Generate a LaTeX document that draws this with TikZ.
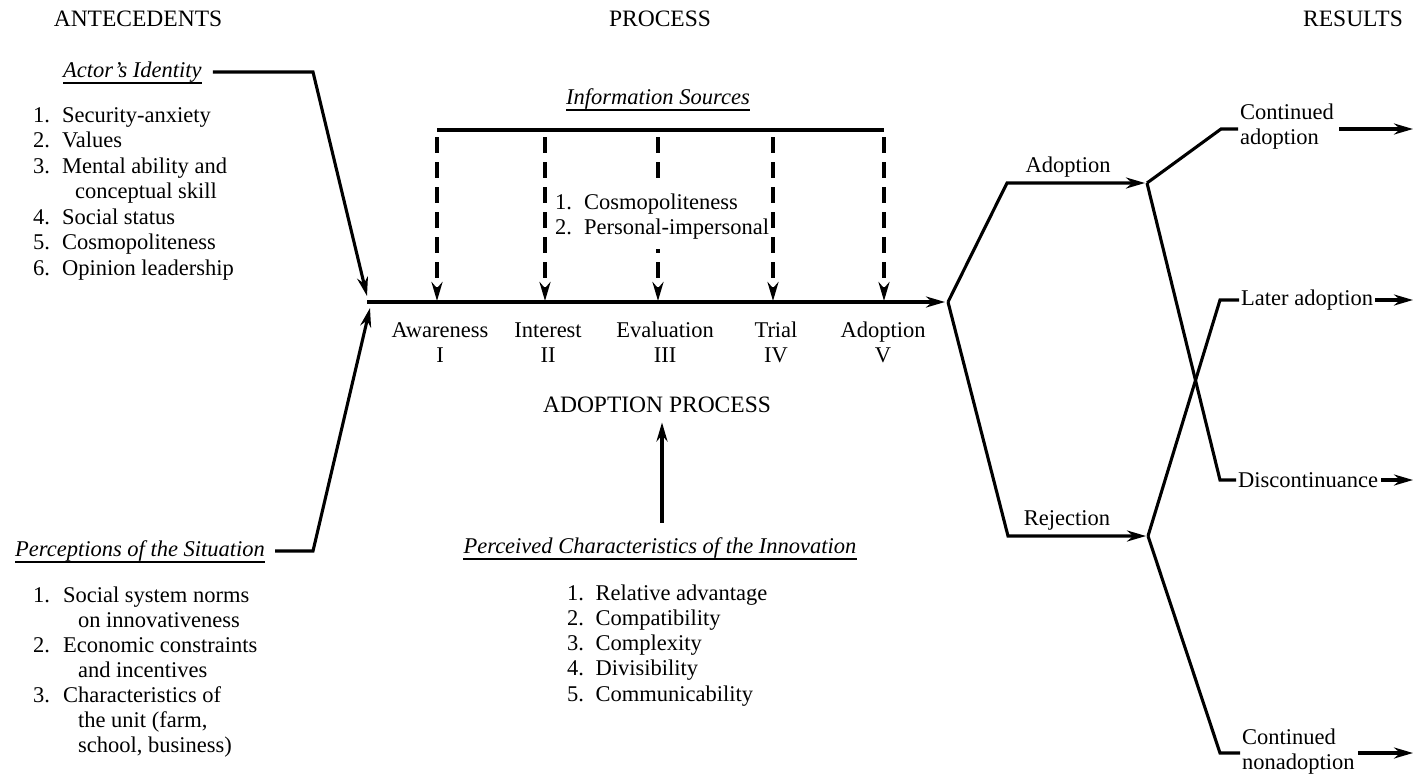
\documentclass[tikz,border=0pt]{standalone}
\usepackage{fontspec}
\setmainfont{Liberation Serif}
\usetikzlibrary{arrows.meta}
\begin{document}
\begin{tikzpicture}[x=1pt,y=-1pt,
  txt/.style={inner sep=0pt, font=\fontsize{22.5}{25}\selectfont},
  head/.style={inner sep=0pt, font=\fontsize{23.5}{25}\selectfont},
  ital/.style={inner sep=0pt, font=\fontsize{22.5}{25}\selectfont\itshape},
  ln/.style={line width=3.1pt},
  arr/.style={line width=3.1pt, -{Stealth[length=19pt,width=11pt]}},
  dsh/.style={line width=3.2pt, dash pattern=on 16pt off 9pt, -{Stealth[length=19pt,width=11pt]}},
  ul/.style={line width=1.2pt}]
\useasboundingbox[fill=white] (0,0) rectangle (1414,777);

% headings
\node[head, anchor=base] (hA) at (138,26) {ANTECEDENTS};
\node[head, anchor=base] (hP) at (660,26) {PROCESS};
\node[head, anchor=base] (hR) at (1353,26) {RESULTS};

% actor's identity
\node[ital, anchor=base west] (actor) at (63,77) {Actor's Identity};
\draw[ul] ([yshift=-6pt]actor.base west) -- ([yshift=-6pt]actor.base east);
\node[txt, anchor=base west] (alist) at (33,122) {\fontsize{22.5}{25.5}\selectfont\begin{tabular}[t]{@{}r@{\hspace{12pt}}l@{}}1.&Security-anxiety\\2.&Values\\3.&Mental ability and\\&\hspace{13pt}conceptual skill\\4.&Social status\\5.&Cosmopoliteness\\6.&Opinion leadership\end{tabular}};
\coordinate (a1) at (313,72);
\coordinate (atip) at (367,296);
\draw[arr] ([xshift=11pt]actor.east |- a1) -- (a1) -- (atip);

% perceptions of the situation
\node[ital, anchor=base west] (perc) at (15,556) {Perceptions of the Situation};
\draw[ul] ([yshift=-6pt]perc.base west) -- ([yshift=-6pt]perc.base east);
\node[txt, anchor=base west] (plist) at (33,602) {\begin{tabular}[t]{@{}r@{\hspace{13pt}}l@{}}1.&Social system norms\\&\hspace{15pt}on innovativeness\\2.&Economic constraints\\&\hspace{15pt}and incentives\\3.&Characteristics of\\&\hspace{15pt}the unit (farm,\\&\hspace{15pt}school, business)\end{tabular}};
\coordinate (p1) at (313,551);
\coordinate (ptip) at (370,308);
\draw[arr] ([xshift=10pt]perc.east |- p1) -- (p1) -- (ptip);

% information sources
\node[ital, anchor=base] (info) at (658,104) {Information Sources};
\draw[ul] ([yshift=-6pt]info.base west) -- ([yshift=-6pt]info.base east);
\foreach \i/\x in {1/437,2/545,3/658,4/773,5/884}{
  \coordinate (t\i) at (\x,130);
  \coordinate (b\i) at (\x,302);
}
\draw[ln] (t1) -- (t5);
\foreach \i in {1,...,5}{
  \draw[dsh, shorten >=1pt] ([yshift=-7pt]t\i) -- (b\i);
}
\node[txt, anchor=base west, fill=white, inner ysep=7pt] (isrc) at (555,209) {\begin{tabular}[t]{@{}r@{\hspace{12pt}}l@{}}1.&Cosmopoliteness\\2.&Personal-impersonal\end{tabular}};

% main line
\coordinate (m0) at (367,302);
\coordinate (br0) at (948,302);
\draw[arr, shorten >=3pt] (m0) -- (br0);

% stages
\node[txt, anchor=base] (s1) at (440,337) {\begin{tabular}[t]{@{}c@{}}Awareness\\I\end{tabular}};
\node[txt, anchor=base] (s2) at (548,337) {\begin{tabular}[t]{@{}c@{}}Interest\\II\end{tabular}};
\node[txt, anchor=base] (s3) at (665,337) {\begin{tabular}[t]{@{}c@{}}Evaluation\\III\end{tabular}};
\node[txt, anchor=base] (s4) at (776,337) {\begin{tabular}[t]{@{}c@{}}Trial\\IV\end{tabular}};
\node[txt, anchor=base] (s5) at (883,337) {\begin{tabular}[t]{@{}c@{}}Adoption\\V\end{tabular}};

\node[head, anchor=base] (adp) at (657,412) {ADOPTION PROCESS};

% perceived characteristics
\node[ital, anchor=base] (pci) at (660,553) {Perceived Characteristics of the Innovation};
\draw[ul] ([yshift=-6pt]pci.base west) -- ([yshift=-6pt]pci.base east);
\node[txt, anchor=base west] (clist) at (567,600) {\fontsize{22.5}{25.25}\selectfont\begin{tabular}[t]{@{}r@{\hspace{11.5pt}}l@{}}1.&Relative advantage\\2.&Compatibility\\3.&Complexity\\4.&Divisibility\\5.&Communicability\end{tabular}};
\coordinate (pc) at (662,523);
\draw[arr, shorten <=14pt, shorten >=10pt] (pci.north -| pc) -- (adp.south -| pc);

% results branches
\coordinate (r1) at (1007,183);
\coordinate (U) at (1147,183);
\coordinate (r2) at (1008,536);
\coordinate (L) at (1148,536);
\draw[arr, shorten >=2pt] (br0) -- (r1) -- (U);
\draw[arr, shorten >=2pt] (br0) -- (r2) -- (L);
\node[txt, anchor=base] (lad) at (1068,172) {Adoption};
\node[txt, anchor=base] (lrej) at (1067,525) {Rejection};

\node[txt, anchor=west] (o1) at (1240,127) {\begin{tabular}{@{}l@{}}Continued\\adoption\end{tabular}};
\node[txt, anchor=west] (o2) at (1241,300) {Later adoption};
\node[txt, anchor=west] (o3) at (1238,480) {Discontinuance};
\node[txt, anchor=west] (o4) at (1242,752) {\begin{tabular}{@{}l@{}}Continued\\nonadoption\end{tabular}};

\coordinate (c1) at (1221,129);
\coordinate (c2) at (1220,300);
\coordinate (c3) at (1220,480);
\coordinate (c4) at (1220,753);
\draw[ln, shorten >=2pt] (U) -- (c1) -- (o1.west |- c1);
\draw[ln, shorten >=2pt] (U) -- (c3) -- (o3.west |- c3);
\draw[ln, shorten >=2pt] (L) -- (c2) -- (o2.west |- c2);
\draw[ln, shorten >=2pt] (L) -- (c4) -- (o4.west |- c4);

\coordinate (e1) at (1413,129);
\coordinate (e2) at (1413,300);
\coordinate (e3) at (1413,480);
\coordinate (e4) at (1413,753);
\draw[arr] ([xshift=5pt]o1.east |- e1) -- (e1);
\draw[arr] ([xshift=2pt]o2.east |- e2) -- (e2);
\draw[arr] ([xshift=3pt]o3.east |- e3) -- (e3);
\draw[arr] ([xshift=3pt]o4.east |- e4) -- (e4);
\end{tikzpicture}
\end{document}
